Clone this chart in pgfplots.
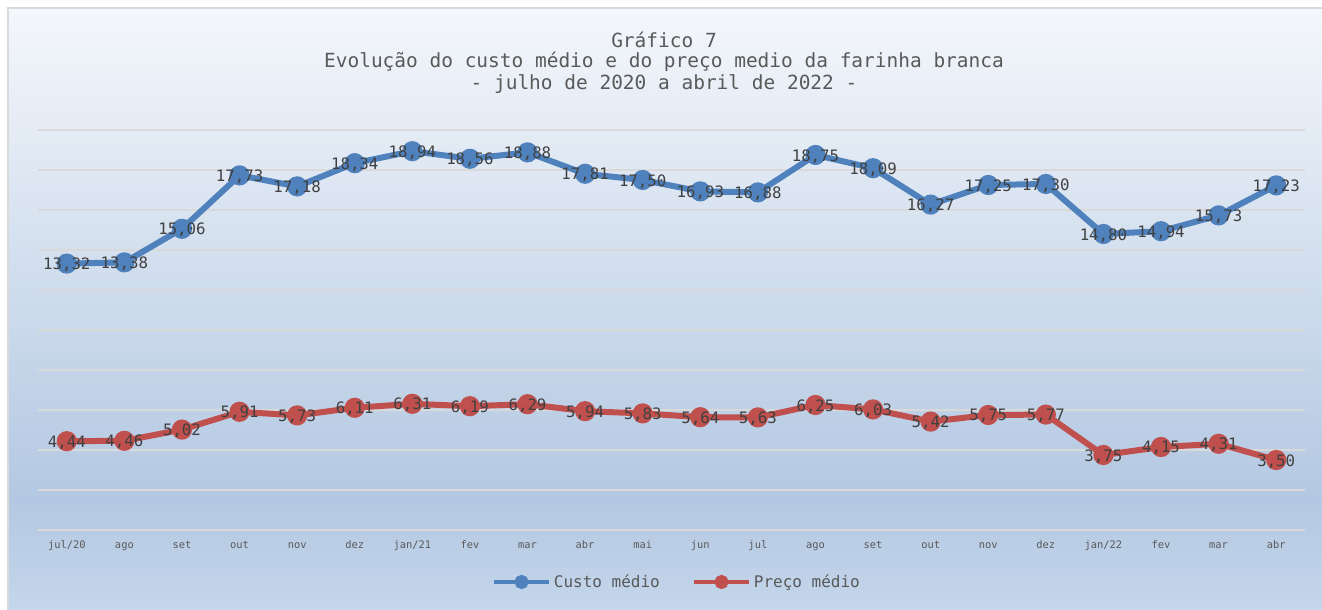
\documentclass[border=0pt]{standalone}
\usepackage{fontspec}
\setmainfont{DejaVu Sans Mono}
\usepackage{pgfplots}
\pgfplotsset{compat=1.18}
\definecolor{cblue}{HTML}{4F81BD}
\definecolor{cred}{HTML}{C0504D}
\definecolor{ttl}{HTML}{595959}
\definecolor{lbl}{HTML}{404040}
\definecolor{grd}{HTML}{D9D9D9}
\definecolor{bgtop}{HTML}{F4F7FB}
\definecolor{bgmid}{HTML}{B3C8E2}
\definecolor{bgbot}{HTML}{C4D6EB}
\pgfplotstableread{
x custo preco
0 13.32 4.44
1 13.38 4.46
2 15.06 5.02
3 17.73 5.91
4 17.18 5.73
5 18.34 6.11
6 18.94 6.31
7 18.56 6.19
8 18.88 6.29
9 17.81 5.94
10 17.50 5.83
11 16.93 5.64
12 16.88 5.63
13 18.75 6.25
14 18.09 6.03
15 16.27 5.42
16 17.25 5.75
17 17.30 5.77
18 14.80 3.75
19 14.94 4.15
20 15.73 4.31
21 17.23 3.50
}\datatable
\begin{document}
\begin{tikzpicture}[x=0.75pt,y=0.75pt]
\useasboundingbox (0,0) rectangle (1322,610);
\fill[white] (0,0) rectangle (1322,610);
\shade[top color=bgtop, bottom color=bgmid] (8,110) rectangle (1322,602);
\shade[top color=bgmid, bottom color=bgbot] (8,0) rectangle (1322,110.5);
\draw[grd, line width=1.5pt] (8,0) -- (8,602) -- (1322,602);
\node[text=ttl, font=\fontsize{14.6}{17}\selectfont] at (664,570) {Gráfico 7};
\node[text=ttl, font=\fontsize{14.6}{17}\selectfont] at (664,548) {Evolução do custo médio e do preço medio da farinha branca};
\node[text=ttl, font=\fontsize{14.6}{17}\selectfont] at (664,526) {- julho de 2020 a abril de 2022 -};
\begin{axis}[
  at={(28.5pt,60pt)}, anchor=south west,
  scale only axis, width=950.25pt, height=300pt,
  xmin=-0.5, xmax=21.5, ymin=0, ymax=20,
  axis line style={draw=none},
  major tick length=0pt,
  ytick={0,2,...,20}, yticklabels={},
  ymajorgrids, grid style={grd, line width=1.5pt},
  xtick={0,...,21},
  xticklabels={jul/20,ago,set,out,nov,dez,jan/21,fev,mar,abr,mai,jun,jul,ago,set,out,nov,dez,jan/22,fev,mar,abr},
  xticklabel style={font=\fontsize{7.8}{9}\selectfont, text=ttl, text height=6pt, text depth=1.6pt, yshift=-4pt},
  clip=false,
  nodes near coords={\pgfmathprintnumber[fixed,fixed zerofill,precision=2,use comma,assume math mode=true]{\pgfplotspointmeta}},
  every node near coord/.append style={anchor=center, yshift=-1pt, text=lbl, font=\fontsize{11.8}{14}\selectfont},
  legend style={at={(0.5045,-0.13)}, anchor=center, draw=none, fill=none, legend columns=2,
    font=\fontsize{12}{14}\selectfont, text=ttl,
    /tikz/every even column/.append style={column sep=22pt},
    /tikz/every odd column/.append style={column sep=0pt}},
  legend cell align=left,
  legend image code/.code={\draw[#1, line width=3.5pt, mark size=3.5pt, mark repeat=2, mark phase=2] plot coordinates {(0pt,0pt) (20.5pt,0pt) (41pt,0pt)};},
]
\addplot[cblue, line width=4.5pt, mark=*, mark size=5.3pt] table[x=x,y=custo]{\datatable};
\addlegendentry{Custo médio}
\addplot[cred, line width=4.5pt, mark=*, mark size=5.3pt] table[x=x,y=preco]{\datatable};
\addlegendentry{Preço médio}
\end{axis}
\end{tikzpicture}
\end{document}
